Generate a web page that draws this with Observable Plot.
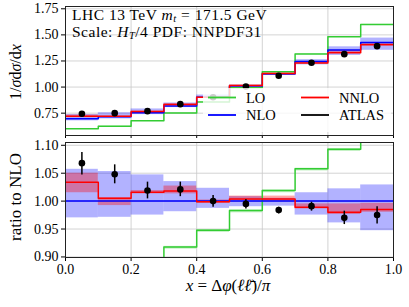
<!DOCTYPE html>
<html><head><meta charset="utf-8">
<script src="https://cdn.jsdelivr.net/npm/d3@7"></script>
<script src="https://cdn.jsdelivr.net/npm/@observablehq/plot@0.6"></script>
<style>
body{margin:0;background:#fff;}
#chart{position:relative;width:409px;height:307px;font-family:'Liberation Serif','DejaVu Serif',serif;}
#chart svg{position:absolute;left:0;top:0;background:transparent;overflow:visible;}
#chart svg text{font-family:'Liberation Serif','DejaVu Serif',serif;}
</style></head><body><div id="chart"></div>
<script>
// bin edges of x = Δφ(ℓℓ̄)/π
const edges = [0.0, 0.1, 0.2, 0.3, 0.4, 0.5, 0.6, 0.7, 0.8, 0.9, 1.0];
// NLO central prediction (1/σ dσ/dx)
const nlo = [0.697, 0.716, 0.755, 0.819, 0.903, 1.011, 1.126, 1.244, 1.356, 1.428];
// NLO scale band, ratio to NLO
const nloBandLo = [0.970, 0.971, 0.975, 0.981, 0.987, 0.990, 0.991, 0.975, 0.961, 0.947];
const nloBandHi = [1.057, 1.053, 1.047, 1.035, 1.023, 1.008, 1.005, 1.015, 1.022, 1.029];
// NNLO, ratio to NLO
const nnloRatio = [1.034, 1.005, 1.016, 1.018, 0.999, 1.004, 1.004, 0.989, 0.980, 0.985];
const nnloBandLo = [1.015, 0.992, 1.013, 1.013, 0.996, 1.001, 1.000, 0.986, 0.976, 0.980];
const nnloBandHi = [1.050, 1.006, 1.019, 1.027, 1.002, 1.009, 1.009, 0.995, 0.995, 0.996];
// LO, ratio to NLO
const loRatio = [0.861, 0.873, 0.897, 0.918, 0.948, 0.983, 1.019, 1.058, 1.093, 1.120];
const loBandLo = [0.857, 0.869, 0.893, 0.914, 0.944, 0.979, 1.015, 1.054, 1.089, 1.116];
const loBandHi = [0.862, 0.874, 0.898, 0.919, 0.949, 0.984, 1.020, 1.059, 1.094, 1.121];
// ATLAS data, ratio to NLO, with error bars
const atlasRatio = [1.068, 1.048, 1.019, 1.021, 1.000, 0.995, 0.984, 0.991, 0.970, 0.975];
const atlasErrLo = [1.047, 1.031, 1.004, 1.008, 0.989, 0.986, 0.977, 0.982, 0.958, 0.959];
const atlasErrHi = [1.087, 1.065, 1.034, 1.034, 1.010, 1.003, 0.989, 0.998, 0.982, 0.990];
// ticks
const xTicks = [0.0, 0.2, 0.4, 0.6, 0.8, 1.0];
const yTicksTop = [0.75, 1.00, 1.25, 1.50, 1.75];
const yTicksRatio = [0.90, 0.95, 1.00, 1.05, 1.10];

const C = {lo: "#33cc33", nlo: "#0000ff", nnlo: "#ff0000", atlas: "#000000"};

const bins = d3.range(10).map(i => ({
  x1: edges[i], x2: edges[i+1], xc: (edges[i] + edges[i+1]) / 2,
  nlo: nlo[i],
  nloLo: nlo[i]*nloBandLo[i], nloHi: nlo[i]*nloBandHi[i],
  nnlo: nlo[i]*nnloRatio[i], nnloLo: nlo[i]*nnloBandLo[i], nnloHi: nlo[i]*nnloBandHi[i],
  lo: nlo[i]*loRatio[i], loLo: nlo[i]*loBandLo[i], loHi: nlo[i]*loBandHi[i],
  atlas: nlo[i]*atlasRatio[i], atlasLo: nlo[i]*atlasErrLo[i], atlasHi: nlo[i]*atlasErrHi[i],
  r_nlo: 1, r_nloLo: nloBandLo[i], r_nloHi: nloBandHi[i],
  r_nnlo: nnloRatio[i], r_nnloLo: nnloBandLo[i], r_nnloHi: nnloBandHi[i],
  r_lo: loRatio[i], r_loLo: loBandLo[i], r_loHi: loBandHi[i],
  r_atlas: atlasRatio[i], r_atlasLo: atlasErrLo[i], r_atlasHi: atlasErrHi[i]
}));
const steps = key => edges.map((e, i) => ({x: e, y: bins[Math.min(i, 9)][key]}));

const W = 409, ML = 65, MR = 16;
const FF = "'Liberation Serif', 'DejaVu Serif', serif";
const gridStyle = {stroke: "#c8c8c8", strokeOpacity: 1, strokeWidth: 0.8};
const fontStyle = {fontFamily: FF, fontSize: "14px", color: "#000", background: "transparent"};

function panelMarks(p, yTicks) {
  return [
    Plot.gridX(xTicks, gridStyle),
    Plot.gridY(yTicks, gridStyle),
    Plot.rectY(bins, {x1: "x1", x2: "x2", y1: p + "nloLo", y2: p + "nloHi", fill: C.nlo, fillOpacity: 0.3, clip: true}),
    Plot.rectY(bins, {x1: "x1", x2: "x2", y1: p + "nnloLo", y2: p + "nnloHi", fill: C.nnlo, fillOpacity: 0.35, clip: true}),
    Plot.rectY(bins, {x1: "x1", x2: "x2", y1: p + "loLo", y2: p + "loHi", fill: C.lo, fillOpacity: 0.3, clip: true}),
    Plot.line(steps(p + "lo"), {x: "x", y: "y", curve: "step-after", stroke: C.lo, strokeWidth: 1.5, clip: true}),
    Plot.line(steps(p + "nlo"), {x: "x", y: "y", curve: "step-after", stroke: C.nlo, strokeWidth: 1.5, clip: true}),
    Plot.line(steps(p + "nnlo"), {x: "x", y: "y", curve: "step-after", stroke: C.nnlo, strokeWidth: 1.5, clip: true}),
    Plot.ruleX(bins, {x: "xc", y1: p + "atlasLo", y2: p + "atlasHi", stroke: C.atlas, strokeWidth: 1.5, clip: true}),
    Plot.dot(bins, {x: "xc", y: p + "atlas", r: 3.3, fill: C.atlas, stroke: "none", clip: true})
  ];
}

// ---- top panel ----
const topPlot = Plot.plot({
  width: W, height: 140, marginLeft: ML, marginRight: MR, marginTop: 6, marginBottom: 5,
  style: fontStyle,
  x: {domain: [0, 1]},
  y: {domain: [0.536, 1.772]},
  marks: [
    ...panelMarks("", yTicksTop),
    Plot.axisX({ticks: xTicks, tickFormat: () => "", tickSize: 3, label: null}),
    Plot.axisY({ticks: yTicksTop, tickFormat: d => d.toFixed(2), tickSize: 4, tickPadding: 3, fontSize: 14, label: null}),
    Plot.frame({stroke: "#222", strokeWidth: 1})
  ]
});
// ---- ratio panel ----
const botPlot = Plot.plot({
  width: W, height: 307, marginLeft: ML, marginRight: MR, marginTop: 142, marginBottom: 50,
  style: fontStyle,
  x: {domain: [0, 1]},
  y: {domain: [0.899, 1.105]},
  marks: [
    ...panelMarks("r_", yTicksRatio),
    Plot.axisX({ticks: xTicks, tickFormat: d => d.toFixed(1), tickSize: 4, tickPadding: 3, fontSize: 14, label: null}),
    Plot.axisY({ticks: yTicksRatio, tickFormat: d => d.toFixed(2), tickSize: 4, tickPadding: 3, fontSize: 14, label: null}),
    Plot.frame({stroke: "#222", strokeWidth: 1})
  ]
});

const chart = document.getElementById("chart");
chart.appendChild(botPlot);
chart.appendChild(topPlot);

// --- texts and legend (drawn on top svg) ---
const ts = d3.select(topPlot);
function txt(sel, x, y, size, anchor) {
  return sel.append("text").attr("x", x).attr("y", y).attr("font-family", FF)
    .attr("font-size", size).attr("fill", "#000").attr("text-anchor", anchor || "start");
}
// annotation (two lines)
const a1 = txt(ts, 72, 19.5, 15.5).attr("letter-spacing", 0.5);
a1.append("tspan").text("LHC 13 TeV ");
a1.append("tspan").attr("font-style", "italic").text("m");
a1.append("tspan").attr("font-style", "italic").attr("font-size", 10.5).attr("dy", 2.5).text("t");
a1.append("tspan").attr("dy", -2.5).text(" = 171.5 GeV");
const a2 = txt(ts, 72, 36.5, 15.5).attr("letter-spacing", 0.5);
a2.append("tspan").text("Scale: ");
a2.append("tspan").attr("font-style", "italic").text("H");
a2.append("tspan").attr("font-style", "italic").attr("font-size", 10.5).attr("dy", 2.5).text("T");
a2.append("tspan").attr("dy", -2.5).text("/4 PDF: NNPDF31");

// legend
ts.append("rect").attr("x", 203).attr("y", 88).attr("width", 188).attr("height", 44).attr("fill", "#fff").attr("fill-opacity", 0.8);
const legendItems = [
  {name: "LO", color: C.lo, col: 0, row: 0},
  {name: "NNLO", color: C.nnlo, col: 1, row: 0},
  {name: "NLO", color: C.nlo, col: 0, row: 1},
  {name: "ATLAS", color: C.atlas, col: 1, row: 1}
];
legendItems.forEach(it => {
  const x0 = it.col ? 301 : 208, y0 = it.row ? 115 : 97.5;
  ts.append("line").attr("x1", x0).attr("x2", x0 + 28).attr("y1", y0).attr("y2", y0).attr("stroke", it.color).attr("stroke-width", 1.8);
  txt(ts, x0 + 38, y0 + 5, 14.5).text(it.name);
});

// y label top
const yl1 = ts.append("text").attr("transform", "translate(21,72) rotate(-90)").attr("text-anchor", "middle").attr("font-family", FF).attr("font-size", 16).attr("fill", "#000");
yl1.append("tspan").text("1/");
yl1.append("tspan").attr("font-style", "italic").text("σ");
yl1.append("tspan").text("d");
yl1.append("tspan").attr("font-style", "italic").text("σ");
yl1.append("tspan").text("/d");
yl1.append("tspan").attr("font-style", "italic").text("x");

const bs = d3.select(botPlot);
bs.append("text").attr("transform", "translate(21,197) rotate(-90)").attr("text-anchor", "middle").attr("font-family", FF).attr("font-size", 17).attr("fill", "#000").text("ratio to NLO");
const xl = txt(bs, 228, 291, 17, "middle");
xl.append("tspan").attr("font-style", "italic").text("x");
xl.append("tspan").text(" = Δ");
xl.append("tspan").attr("font-style", "italic").text("φ");
xl.append("tspan").text("(");
xl.append("tspan").attr("font-style", "italic").text("ℓℓ̄");
xl.append("tspan").text(")/");
xl.append("tspan").attr("font-style", "italic").text("π");
</script></body></html>
